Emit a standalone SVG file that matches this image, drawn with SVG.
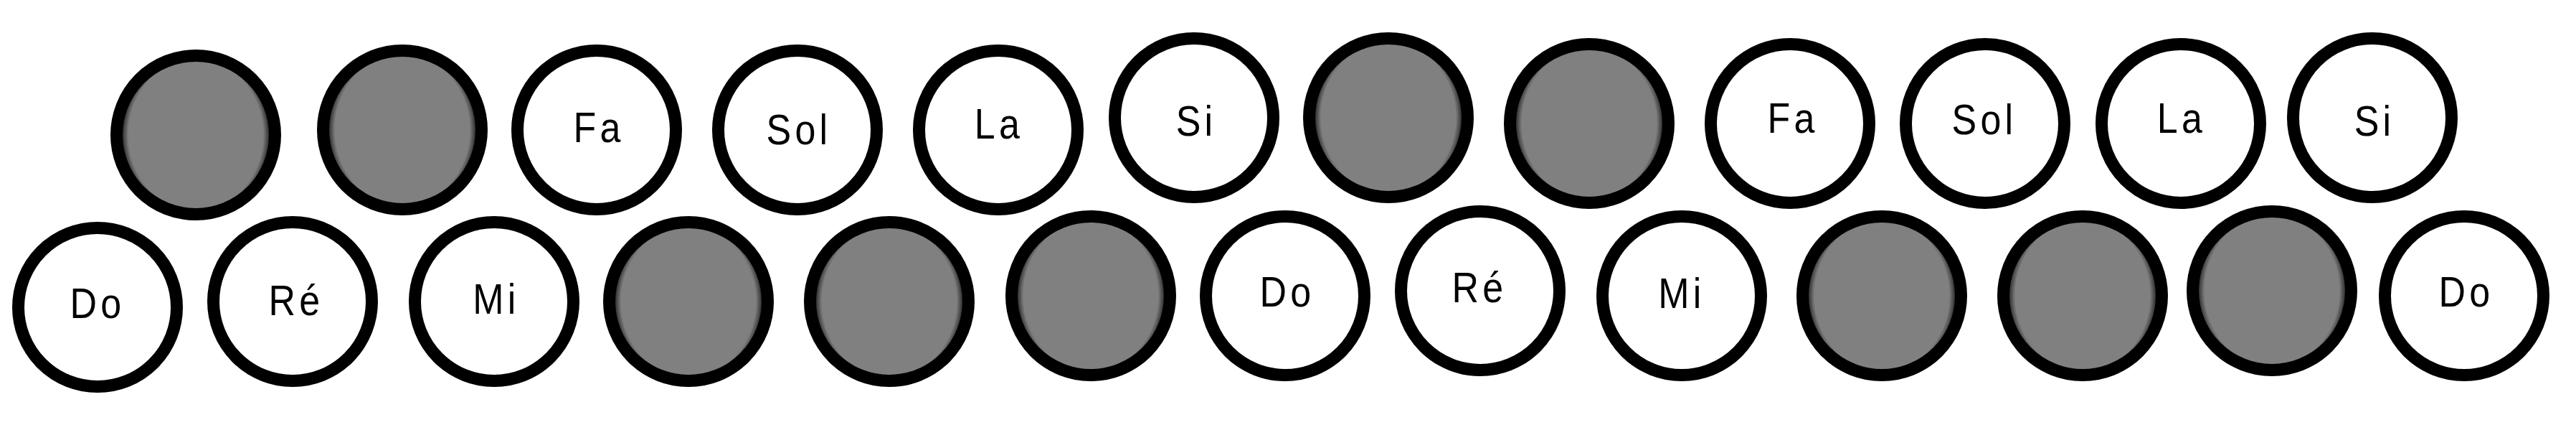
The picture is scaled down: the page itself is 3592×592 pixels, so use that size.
<svg xmlns="http://www.w3.org/2000/svg" width="3592" height="592" viewBox="0 0 3592 592">
<style>
.k{stroke:#000;stroke-width:17}
.w{fill:#fff}
.g{fill:url(#gr)}
text{font-family:"Liberation Sans",Arial,sans-serif;font-size:59px;fill:#000;text-anchor:middle;letter-spacing:6px}
</style>
<defs>
<radialGradient id="gr" cx="0.5" cy="0.5" r="0.5" gradientTransform="translate(0.5,0.5) scale(1,1.12) translate(-0.5,-0.5)">
<stop offset="0" stop-color="#808080"/>
<stop offset="0.85" stop-color="#808080"/>
<stop offset="0.93" stop-color="#2a2a2a"/>
<stop offset="1" stop-color="#000"/>
</radialGradient>
</defs>
<rect width="3592" height="592" fill="#fff"/>
<g id="top-row">
<g id="t1"><circle class="k g" cx="273" cy="188" r="110.5"/></g>
<g id="t2"><circle class="k g" cx="561" cy="181" r="110.5"/></g>
<g id="t3-fa"><circle class="k w" cx="832" cy="181" r="110.5"/><text transform="translate(835,198) scale(0.88,1)">Fa</text></g>
<g id="t4-sol"><circle class="k w" cx="1112" cy="181" r="110.5"/><text transform="translate(1114,201) scale(0.88,1)">Sol</text></g>
<g id="t5-la"><circle class="k w" cx="1392" cy="181" r="110.5"/><text transform="translate(1393,193) scale(0.88,1)">La</text></g>
<g id="t6-si"><circle class="k w" cx="1665" cy="164" r="110.5"/><text transform="translate(1668,189) scale(0.88,1)">Si</text></g>
<g id="t7"><circle class="k g" cx="1936" cy="164" r="110.5"/></g>
<g id="t8"><circle class="k g" cx="2216" cy="172" r="110.5"/></g>
<g id="t9-fa"><circle class="k w" cx="2496" cy="172" r="110.5"/><text transform="translate(2500,185) scale(0.88,1)">Fa</text></g>
<g id="t10-sol"><circle class="k w" cx="2768" cy="172" r="110.5"/><text transform="translate(2767,187) scale(0.88,1)">Sol</text></g>
<g id="t11-la"><circle class="k w" cx="3041" cy="172" r="110.5"/><text transform="translate(3042,185) scale(0.88,1)">La</text></g>
<g id="t12-si"><circle class="k w" cx="3308" cy="164" r="110.5"/><text transform="translate(3311,189) scale(0.88,1)">Si</text></g>
</g>
<g id="bottom-row">
<g id="b1-do"><circle class="k w" cx="136" cy="428" r="110.5"/><text transform="translate(136,443) scale(0.88,1)">Do</text></g>
<g id="b2-re"><circle class="k w" cx="408" cy="420" r="110.5"/><text transform="translate(413,439) scale(0.88,1)">Ré</text></g>
<g id="b3-mi"><circle class="k w" cx="689" cy="420" r="110.5"/><text transform="translate(692,437) scale(0.88,1)">Mi</text></g>
<g id="b4"><circle class="k g" cx="960" cy="420" r="110.5"/></g>
<g id="b5"><circle class="k g" cx="1240" cy="420" r="110.5"/></g>
<g id="b6"><circle class="k g" cx="1521" cy="412" r="110.5"/></g>
<g id="b7-do"><circle class="k w" cx="1792" cy="412" r="110.5"/><text transform="translate(1795,427) scale(0.88,1)">Do</text></g>
<g id="b8-re"><circle class="k w" cx="2064" cy="405" r="110.5"/><text transform="translate(2063,421) scale(0.88,1)">Ré</text></g>
<g id="b9-mi"><circle class="k w" cx="2345" cy="412" r="110.5"/><text transform="translate(2345,429) scale(0.88,1)">Mi</text></g>
<g id="b10"><circle class="k g" cx="2624" cy="412" r="110.5"/></g>
<g id="b11"><circle class="k g" cx="2904" cy="412" r="110.5"/></g>
<g id="b12"><circle class="k g" cx="3168" cy="405" r="110.5"/></g>
<g id="b13-do"><circle class="k w" cx="3436" cy="412" r="110.5"/><text transform="translate(3439,427) scale(0.88,1)">Do</text></g>
</g>
<g id="connectors"/>
</svg>
